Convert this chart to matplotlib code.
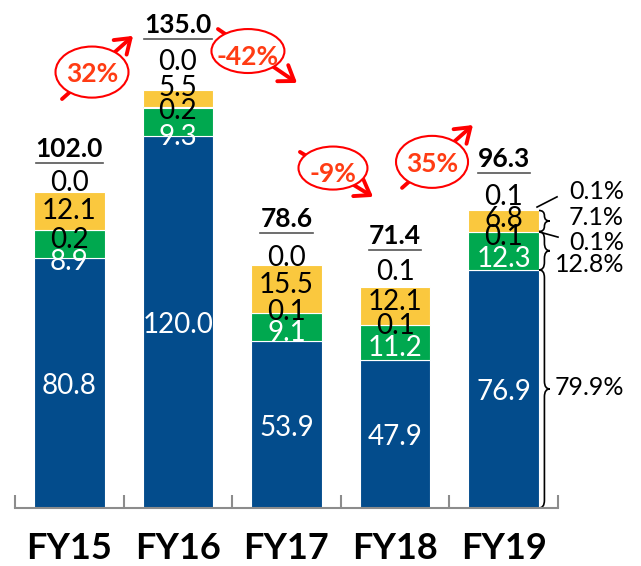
import matplotlib
matplotlib.use("Agg")
import matplotlib.pyplot as plt
from matplotlib.patches import Ellipse, PathPatch
from matplotlib.path import Path
import numpy as np

plt.rcParams['font.family'] = ['Lato', 'DejaVu Sans']

# data
years = ['FY15', 'FY16', 'FY17', 'FY18', 'FY19']
blue_vals = [80.8, 120.0, 53.9, 47.9, 76.9]
green_vals = [8.9, 9.3, 9.1, 11.2, 12.3]
thin_vals = [0.2, 0.2, 0.1, 0.1, 0.1]
yellow_vals = [12.1, 5.5, 15.5, 12.1, 6.8]
top_vals = [0.0, 0.0, 0.0, 0.1, 0.1]
totals = [102.0, 135.0, 78.6, 71.4, 96.3]
growth = ['32%', '-42%', '-9%', '35%']
fy19_share = ['0.1%', '7.1%', '0.1%', '12.8%', '79.9%']

BLUE = '#034C8C'
GREEN = '#00A84F'
YELLOW = '#FAC83E'
RED = '#FF0000'
ORANGE = '#FF3C14'
GRAY = '#8C8C8C'

DPI = 100
PT = 72 / DPI  # pixel -> point

fig = plt.figure(figsize=(6.41, 5.66), dpi=DPI)
ax = fig.add_axes([15 / 641, 58 / 566, 543 / 641, 508 / 566])
ax.set_xlim(-0.5, 4.5)
ax.set_ylim(0, 508 / 3.096)

x = np.arange(len(years))
w = 0.65
b = np.array(blue_vals)
g = np.array(green_vals)
t = np.array(thin_vals)
yv = np.array(yellow_vals)
z = np.array(top_vals)

ax.bar(x, b, w, color=BLUE, edgecolor='white', linewidth=0.8)
ax.bar(x, g, w, bottom=b, color=GREEN, edgecolor='white', linewidth=0.8)
ax.bar(x, t, w, bottom=b + g, color=GREEN, linewidth=0)
ax.bar(x, yv, w, bottom=b + g + t, color=YELLOW, edgecolor='white', linewidth=0.8)
ax.bar(x, z, w, bottom=b + g + t + yv, color=YELLOW, linewidth=0)

# label offsets (pixels, up positive)
off_blue = [-3, -3, -3, -3, -3]
off_green = [-4, -1, 8, 12, 11]
off_thin = [-10, -4, 1, -1, -5]
off_yellow = [0, 11, 4, 4, 2]
off_top = [9, 28, 7, 15, 13]
off_total = [43, 65, 46, 51, 51]


def lab(xx, yy, dy, s, color='black', size=20, weight='normal'):
    return ax.annotate(s, (xx, yy), xytext=(0, dy * PT), textcoords='offset points',
                       ha='center', va='center', color=color, fontsize=size,
                       fontweight=weight, annotation_clip=False)


total_texts = []
for i in range(len(years)):
    lab(x[i], b[i] / 2, off_blue[i], f'{blue_vals[i]:.1f}', 'white')
    lab(x[i], b[i], off_green[i], f'{green_vals[i]:.1f}', 'white')
    lab(x[i], b[i] + g[i] + t[i], off_thin[i], f'{thin_vals[i]:.1f}')
    lab(x[i], b[i] + g[i] + t[i] + yv[i] / 2, off_yellow[i], f'{yellow_vals[i]:.1f}')
    top = b[i] + g[i] + t[i] + yv[i] + z[i]
    lab(x[i], top, off_top[i], f'{top_vals[i]:.1f}')
    total_texts.append(lab(x[i], top, off_total[i], f'{totals[i]:.1f}', size=19, weight='bold'))

# axis styling
for s in ['top', 'left', 'right']:
    ax.spines[s].set_visible(False)
ax.spines['bottom'].set_color(GRAY)
ax.spines['bottom'].set_linewidth(1.5)
ax.set_yticks([])
ax.set_xticks(x)
ax.set_xticklabels(years, fontsize=26, fontweight='bold')
ax.tick_params(axis='x', which='major', length=0, pad=17)
ax.set_xticks(np.arange(-0.5, 4.6, 1), minor=True)
ax.tick_params(axis='x', which='minor', direction='in', length=9.5, width=1.5, color=GRAY)

# growth arrows with ellipses
arr_tail = [(-0.067, 132.1), (1.369, 154.7), (2.124, 115.0), (3.064, 103.4)]
arr_head = [(0.587, 152.5), (2.097, 137.3), (2.797, 100.5), (3.717, 123.7)]
ell_ctr = [(0.209, 140.8), (1.645, 147.6), (2.428, 109.8), (3.340, 111.8)]
ell_size = [(0.672, 16.5), (0.672, 14.2), (0.635, 13.9), (0.663, 16.8)]
txt_y = [140.3, 145.8, 108.0, 111.2]
for i in range(4):
    ax.annotate('', xy=arr_head[i], xytext=arr_tail[i],
                arrowprops=dict(arrowstyle='->,head_length=0.5,head_width=0.35',
                                color=RED, lw=2.8, mutation_scale=20,
                                shrinkA=0, shrinkB=0),
                annotation_clip=False)
    ax.add_patch(Ellipse(ell_ctr[i], ell_size[i][0], ell_size[i][1], facecolor='white',
                         edgecolor=RED, lw=1.5, clip_on=False, zorder=5))
    ax.text(ell_ctr[i][0], txt_y[i], growth[i], ha='center', va='center', color=ORANGE,
            fontsize=19, fontweight='bold', zorder=6)


# braces on FY19
def brace(x0, y0, y1, wd):
    ym = (y0 + y1) / 2
    r = min((y1 - y0) / 4, 2.5)
    xm = x0 + wd / 2
    verts = [(x0, y0), (xm, y0), (xm, y0 + r), (xm, ym - r), (xm, ym), (x0 + wd, ym),
             (xm, ym), (xm, ym + r), (xm, y1 - r), (xm, y1), (x0, y1)]
    codes = [Path.MOVETO, Path.CURVE3, Path.CURVE3, Path.LINETO, Path.CURVE3, Path.CURVE3,
             Path.CURVE3, Path.CURVE3, Path.LINETO, Path.CURVE3, Path.CURVE3]
    ax.add_patch(PathPatch(Path(verts, codes), fill=False, lw=1.2, color='black', clip_on=False))


xr = 4 + w / 2
brace(xr, b[4] + g[4] + t[4], b[4] + g[4] + t[4] + yv[4], 0.1)
brace(xr, b[4], b[4] + g[4] + t[4], 0.1)
brace(xr, 0, b[4], 0.1)
ax.plot([4.307, 4.491], [97.2, 100.5], color='black', lw=1.2, clip_on=False)
ax.plot([4.334, 4.500], [89.1, 87.5], color='black', lw=1.2, clip_on=False)

share_y = [102.1, 93.7, 85.9, 78.5, 38.8]
for s, sy in zip(fy19_share, share_y):
    ax.text(5.108, sy, s, ha='right', va='center', fontsize=18)

# underline the totals
fig.canvas.draw()
r = fig.canvas.get_renderer()
inv = fig.transFigure.inverted()
for tt in total_texts:
    bb = tt.get_window_extent(r)
    y_line = bb.y0 - 2
    p0 = inv.transform((bb.x0, y_line))
    p1 = inv.transform((bb.x1, y_line))
    fig.add_artist(plt.Line2D([p0[0], p1[0]], [p0[1], p1[1]], color='#555555', lw=1.2))

fig.savefig('out.png', dpi=DPI)
